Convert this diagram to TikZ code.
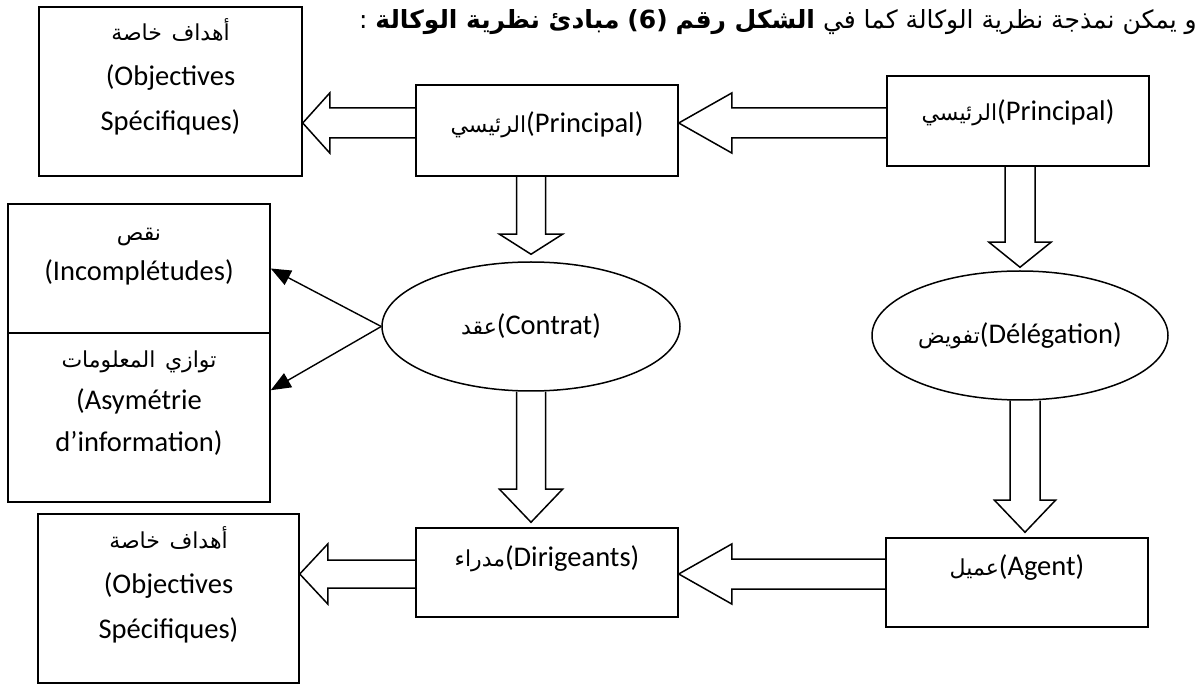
\documentclass[tikz,border=0pt]{standalone}
\usepackage{fontspec}
\setmainfont{Carlito}
\newfontfamily\ar[Script=Arabic]{DejaVu Sans}
\TeXXeTstate=1
\usetikzlibrary{shapes.geometric,arrows.meta,calc}
\newcommand\AR[1]{{\ar\fontsize{22}{22}\selectfont\beginR #1\endR}}
\newcommand\hblk[5]{\draw[blk] ($(#1)+(0,-#3)$) -- ($(#2)+(#5,-#3)$) -- ($(#2)+(#5,-#4)$) -- (#2) -- ($(#2)+(#5,#4)$) -- ($(#2)+(#5,#3)$) -- ($(#1)+(0,#3)$);}
\newcommand\vblk[5]{\draw[blk] ($(#1)+(-#3,0)$) -- ($(#2)+(-#3,-#5)$) -- ($(#2)+(-#4,-#5)$) -- (#2) -- ($(#2)+(#4,-#5)$) -- ($(#2)+(#3,-#5)$) -- ($(#1)+(#3,0)$);}
\tikzset{
  box/.style={draw, line width=1.5pt, inner sep=0pt, align=center, font=\fontsize{28.5}{45}\selectfont},
  oval/.style={draw, ellipse, line width=1.5pt, inner sep=0pt, font=\fontsize{28.5}{34}\selectfont},
  blk/.style={draw, line width=1.5pt, line join=miter},
  thinarrow/.style={draw, line width=1.4pt, -{Triangle[length=20pt,width=16pt]}}
}
\begin{document}
\begin{tikzpicture}[x=1pt,y=-1pt]
\useasboundingbox (0,0) rectangle (1203,684);
% title
\node[anchor=east, inner sep=0pt] (title) at (1197,22) {\ar\fontsize{25}{25}\selectfont\beginR و يمكن نمذجة نظرية الوكالة كما في \textbf{الشكل رقم} \textbf{\beginL(6)\endL} \textbf{مبادئ نظرية الوكالة} :\endR};
% boxes
\node[box, text width=263pt, text height=34pt, text depth=135pt] (obj1) at (170.5,91.5) {\AR{أهداف خاصة}\\(Objectives\\Spécifiques)};
\node[box, text width=262pt, text height=48pt, text depth=43pt] (prin2) at (547,130.5) {\AR{الرئيسي}(Principal)};
\node[box, text width=262pt, text height=45pt, text depth=45pt] (prin1) at (1018,121) {\AR{الرئيسي}(Principal)};
\node[box, text width=262pt, text height=37pt, text depth=92pt, font=\fontsize{28.5}{40}\selectfont] (upc) at (139,268.5) {\AR{نقص}\\(Incomplétudes)};
\node[box, text width=262pt, text height=35pt, text depth=134pt, font=\fontsize{28.5}{42}\selectfont] (loc) at (139,417.5) {\AR{توازي المعلومات}\\(Asymétrie\\d’information)};
\node[box, text width=261pt, text height=34pt, text depth=135pt] (obj2) at (168.5,598.5) {\AR{أهداف خاصة}\\(Objectives\\Spécifiques)};
\node[box, text width=262pt, text height=38pt, text depth=51pt] (dir) at (547,572.5) {\AR{مدراء}(Dirigeants)};
\node[box, text width=262pt, text height=38pt, text depth=51pt] (agent) at (1017,582.5) {\AR{عميل}(Agent)};
% ellipses
\node[oval, minimum width=298pt, minimum height=129pt] (contrat) at (531,326.5) {\raisebox{4pt}{\AR{عقد}(Contrat)}};
\node[oval, minimum width=296pt, minimum height=129pt] (deleg) at (1020,335.5) {\raisebox{4pt}{\AR{تفويض}(Délégation)}};
% horizontal block arrows
\coordinate (rowA) at (0,123);
\coordinate (rowB) at (0,574);
\coordinate (s1) at (prin1.west |- rowA); \coordinate (t1) at (prin2.east |- rowA);
\hblk{s1}{t1}{15}{30}{53}
\coordinate (s2) at (prin2.west |- rowA); \coordinate (t2) at (obj1.east |- rowA);
\hblk{s2}{t2}{15}{30}{27}
\coordinate (s3) at (agent.west |- rowB); \coordinate (t3) at (dir.east |- rowB);
\hblk{s3}{t3}{15}{30}{53}
\coordinate (s4) at (dir.west |- rowB); \coordinate (t4) at (obj2.east |- rowB);
\hblk{s4}{t4}{14}{30}{28}
% vertical block arrows
\coordinate (s5) at (contrat.north |- prin2.south); \coordinate (t5) at ($(contrat.north)+(0,-7)$);
\vblk{s5}{t5}{14.5}{31.5}{20}
\coordinate (s6) at (contrat.south); \coordinate (t6a) at (contrat.south |- dir.north); \coordinate (t6) at ($(t6a)+(0,-5)$);
\vblk{s6}{t6}{14.5}{31.5}{33}
\coordinate (s7) at (deleg.north |- prin1.south); \coordinate (t7) at ($(deleg.north)+(0,-3)$);
\vblk{s7}{t7}{15}{31}{25}
\coordinate (s8) at ($(deleg.south)+(5,0)$); \coordinate (t8a) at (s8 |- agent.north); \coordinate (t8) at ($(t8a)+(0,-5)$);
\vblk{s8}{t8}{15}{30.5}{32}
% thin arrows
\coordinate (t9) at ($(loc.north east)!0.34!(loc.south east)$);
\draw[thinarrow] (contrat.west) -- (upc.east);
\draw[thinarrow] (contrat.west) -- (t9);
\end{tikzpicture}
\end{document}
